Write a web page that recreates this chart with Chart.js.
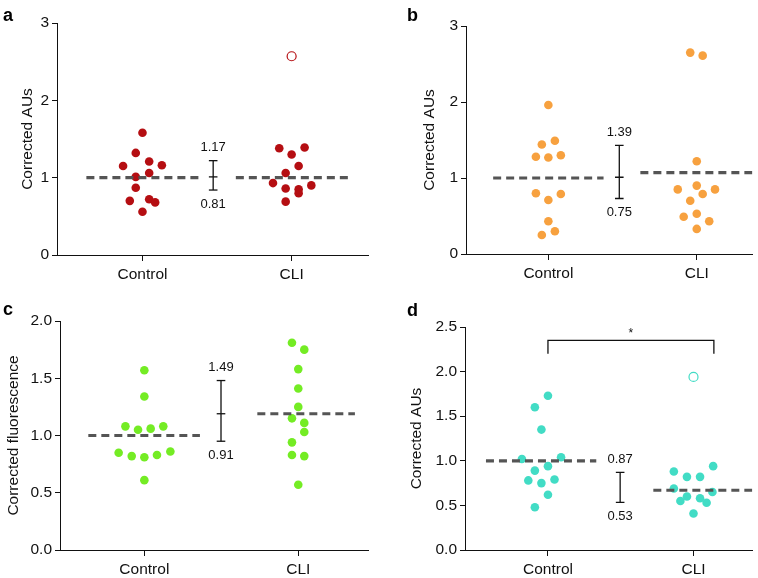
<!DOCTYPE html>
<html>
<head>
<meta charset="utf-8">
<script src="https://cdn.jsdelivr.net/npm/chart.js@4.4.1/dist/chart.umd.min.js"></script>
<style>
  body { margin: 0; background: #fff; }
  #wrap { position: relative; width: 758px; height: 578px; overflow: hidden; }
  canvas { position: absolute; }
  .tag { position: absolute; font: bold 18px 'Liberation Sans', Arial, sans-serif; line-height: 18px; color: #000; }
</style>
</head>
<body>
<div id="wrap">
  <canvas id="pa" width="379" height="290" style="left:0;top:0"></canvas>
  <canvas id="pb" width="379" height="290" style="left:379px;top:0"></canvas>
  <canvas id="pc" width="379" height="288" style="left:0;top:290px"></canvas>
  <canvas id="pd" width="379" height="288" style="left:379px;top:290px"></canvas>
  <div class="tag" style="left:3px;top:6px">a</div>
  <div class="tag" style="left:407px;top:6px">b</div>
  <div class="tag" style="left:3px;top:300px">c</div>
  <div class="tag" style="left:407px;top:301px">d</div>
</div>
<script>
const categories = ['Control', 'CLI'];

// panel a
const aControl = [1.58, 1.32, 1.15, 1.21, 1.16, 1.06, 1.01, 0.87, 0.70, 0.72, 0.68, 0.56];
const aControlJitter = [0, -0.045, -0.13, 0.045, 0.13, 0.045, -0.045, -0.045, -0.085, 0.045, 0.085, 0];
const aCli = [1.38, 1.30, 1.39, 1.15, 1.06, 0.93, 0.90, 0.86, 0.85, 0.80, 0.69];
const aCliJitter = [-0.083, 0, 0.087, 0.047, -0.04, -0.125, 0.132, -0.04, 0.047, 0.047, -0.04];
const aOutlier = [2.57];
const aMeans = [1.0, 1.0];
const aErr = [1.22, 1.01, 0.84];
const aErrLabels = ['1.17', '0.81'];
const aTicks = [0, 1, 2, 3];
const aTickLabels = ['0', '1', '2', '3'];

// panel b
const bControl = [1.96, 1.44, 1.49, 1.28, 1.27, 1.30, 0.80, 0.79, 0.71, 0.43, 0.30, 0.25];
const bControlJitter = [0, -0.044, 0.044, -0.084, 0, 0.084, -0.084, 0.084, 0, 0, 0.044, -0.044];
const bCli = [2.65, 2.61, 1.22, 0.90, 0.85, 0.85, 0.79, 0.70, 0.53, 0.49, 0.43, 0.33];
const bCliJitter = [-0.044, 0.04, 0, 0, -0.128, 0.123, 0.04, -0.044, 0, -0.088, 0.084, 0];
const bOutlier = [];
const bMeans = [1.0, 1.07];
const bErr = [1.43, 1.01, 0.73];
const bErrLabels = ['1.39', '0.75'];
const bTicks = [0, 1, 2, 3];
const bTickLabels = ['0', '1', '2', '3'];

// panel c
const cControl = [1.57, 1.34, 1.08, 1.05, 1.06, 1.08, 0.85, 0.82, 0.81, 0.83, 0.86, 0.61];
const cControlJitter = [0, 0, -0.123, -0.041, 0.041, 0.123, -0.167, -0.082, 0, 0.082, 0.169, 0];
const cCli = [1.81, 1.75, 1.58, 1.41, 1.25, 1.15, 1.11, 1.03, 0.94, 0.83, 0.82, 0.57];
const cCliJitter = [-0.041, 0.039, 0, 0, 0, -0.041, 0.039, 0.039, -0.041, -0.041, 0.039, 0];
const cOutlier = [];
const cMeans = [1.0, 1.19];
const cErr = [1.48, 1.19, 0.95];
const cErrLabels = ['1.49', '0.91'];
const cTicks = [0, 0.5, 1, 1.5, 2];
const cTickLabels = ['0.0', '0.5', '1.0', '1.5', '2.0'];

// panel d
const dControl = [1.73, 1.60, 1.35, 1.02, 1.04, 0.89, 0.94, 0.78, 0.75, 0.79, 0.62, 0.48];
const dControlJitter = [0, -0.09, -0.045, -0.179, 0.09, -0.09, 0, -0.135, -0.045, 0.045, 0, -0.09];
const dCli = [0.88, 0.82, 0.82, 0.94, 0.69, 0.65, 0.55, 0.60, 0.58, 0.53, 0.41];
const dCliJitter = [-0.135, -0.045, 0.045, 0.135, -0.135, 0.13, -0.09, -0.045, 0.045, 0.09, 0];
const dOutlier = [1.94];
const dMeans = [1.0, 0.67];
const dErr = [0.87, null, 0.535];
const dErrLabels = ['0.87', '0.53'];
const dTicks = [0, 0.5, 1, 1.5, 2, 2.5];
const dTickLabels = ['0.0', '0.5', '1.0', '1.5', '2.0', '2.5'];
const dBracket = [2.2, 2.35];

const FONT = "'Liberation Sans', Arial, sans-serif";
Chart.defaults.font.family = FONT;
Chart.defaults.color = '#111';

// draws the small numbers next to the error bars and the significance star
const notesPlugin = {
  id: 'notes',
  afterDatasetsDraw(chart, args, opts) {
    const ctx = chart.ctx;
    const xs = chart.scales.x, ys = chart.scales.y;
    ctx.save();
    ctx.fillStyle = '#111';
    ctx.textAlign = 'center';
    ctx.textBaseline = 'middle';
    ctx.font = '13px ' + FONT;
    const ex = xs.getPixelForValue(opts.errX);
    ctx.fillText(opts.labels[0], ex, ys.getPixelForValue(opts.err[0]) - 13);
    ctx.fillText(opts.labels[1], ex, ys.getPixelForValue(opts.err[2]) + 14);
    if (opts.star) {
      ctx.font = '12px ' + FONT;
      ctx.fillText('*', xs.getPixelForValue(opts.star.x), ys.getPixelForValue(opts.star.y) + 2);
    }
    ctx.restore();
  }
};

function pts(vals, jitter, center) {
  return vals.map((v, i) => ({ x: center + jitter[i], y: v }));
}

function drawPanel(id, p) {
  const lineStyle = { showLine: true, pointRadius: 0, borderColor: '#555', borderWidth: 3.2, borderDash: [8, 5], order: 0 };
  const errPts = [{ x: p.errX, y: p.err[0] }];
  if (p.err[1] !== null) errPts.push({ x: p.errX, y: p.err[1] });
  errPts.push({ x: p.errX, y: p.err[2] });

  const datasets = [
    Object.assign({ data: [{ x: p.meanX[0], y: p.means[0] }, { x: p.meanX[1], y: p.means[0] }] }, lineStyle),
    Object.assign({ data: [{ x: p.meanX[2], y: p.means[1] }, { x: p.meanX[3], y: p.means[1] }] }, lineStyle),
    {
      data: errPts, showLine: true, borderColor: '#111', borderWidth: 1.3,
      pointStyle: 'line', pointRadius: 4.3, pointBorderColor: '#111', pointBorderWidth: 1.3, order: 1
    },
    { data: pts(p.control, p.controlJitter, 0), backgroundColor: p.color, borderWidth: 0, pointRadius: 4.3, order: 2 },
    { data: pts(p.cli, p.cliJitter, 1), backgroundColor: p.color, borderWidth: 0, pointRadius: 4.3, order: 2 },
    {
      data: p.outlier.map(v => ({ x: 1, y: v })), backgroundColor: '#fff', borderColor: p.color,
      borderWidth: 1.2, pointRadius: 4.5, order: 2
    }
  ];
  if (p.bracket) {
    datasets.push({
      data: [{ x: 0, y: p.bracket[0] }, { x: 0, y: p.bracket[1] }, { x: 1.14, y: p.bracket[1] }, { x: 1.14, y: p.bracket[0] }],
      showLine: true, borderColor: '#111', borderWidth: 1.3, pointRadius: 0, order: 1
    });
  }

  new Chart(document.getElementById(id), {
    type: 'scatter',
    data: { datasets },
    plugins: [notesPlugin],
    options: {
      responsive: false,
      animation: false,
      events: [],
      layout: { padding: { left: 0, right: p.padRight, top: p.padTop, bottom: 0 } },
      plugins: {
        legend: { display: false },
        tooltip: { enabled: false },
        notes: { errX: p.errX, err: p.err, labels: p.errLabels, star: p.star }
      },
      scales: {
        x: {
          type: 'linear', min: p.xMin, max: p.xMax,
          afterBuildTicks: s => { s.ticks = categories.map((c, i) => ({ value: i })); },
          afterFit: s => { s.height = p.xAxisH; },
          ticks: { callback: v => categories[v], font: { size: 15.5 }, color: '#111', padding: 4, maxRotation: 0 },
          grid: { drawOnChartArea: false, tickLength: 6, color: '#111', lineWidth: 1 },
          border: { color: '#111', width: 1 }
        },
        y: {
          type: 'linear', min: p.yTicks[0], max: p.yTicks[p.yTicks.length - 1],
          afterBuildTicks: s => { s.ticks = p.yTicks.map(v => ({ value: v })); },
          afterFit: s => { s.width = p.yAxisW; },
          ticks: { callback: (v, i) => p.yTickLabels[i], font: { size: 15.5 }, color: '#111', padding: 3 },
          grid: { drawOnChartArea: false, tickLength: 5, color: '#111', lineWidth: 1 },
          border: { color: '#111', width: 1 },
          title: { display: true, text: p.yTitle, font: { size: 15.5 }, color: '#111', padding: { top: p.titlePad, bottom: 0 } }
        }
      }
    }
  });
}

drawPanel('pa', {
  color: '#b50e12', control: aControl, controlJitter: aControlJitter, cli: aCli, cliJitter: aCliJitter,
  outlier: aOutlier, means: aMeans, meanX: [-0.376, 0.38, 0.626, 1.38],
  err: aErr, errX: 0.474, errLabels: aErrLabels, yTicks: aTicks, yTickLabels: aTickLabels,
  yTitle: 'Corrected AUs', xMin: -0.573, xMax: 1.512,
  padTop: 23, padRight: 11, yAxisW: 57, xAxisH: 35, titlePad: 18
});
drawPanel('pb', {
  color: '#f7a13f', control: bControl, controlJitter: bControlJitter, cli: bCli, cliJitter: bCliJitter,
  outlier: bOutlier, means: bMeans, meanX: [-0.372, 0.372, 0.62, 1.375],
  err: bErr, errX: 0.478, errLabels: bErrLabels, yTicks: bTicks, yTickLabels: bTickLabels,
  yTitle: 'Corrected AUs', xMin: -0.555, xMax: 1.375,
  padTop: 26, padRight: 0, yAxisW: 87, xAxisH: 36, titlePad: 41
});
drawPanel('pc', {
  color: '#74ec24', control: cControl, controlJitter: cControlJitter, cli: cCli, cliJitter: cCliJitter,
  outlier: cOutlier, means: cMeans, meanX: [-0.364, 0.361, 0.734, 1.368],
  err: cErr, errX: 0.498, errLabels: cErrLabels, yTicks: cTicks, yTickLabels: cTickLabels,
  yTitle: 'Corrected fluorescence', xMin: -0.548, xMax: 1.453,
  padTop: 31, padRight: 11, yAxisW: 60, xAxisH: 28, titlePad: 4
});
drawPanel('pd', {
  color: '#42dcc5', control: dControl, controlJitter: dControlJitter, cli: dCli, cliJitter: dCliJitter,
  outlier: dOutlier, means: dMeans, meanX: [-0.426, 0.332, 0.724, 1.404],
  err: dErr, errX: 0.496, errLabels: dErrLabels, yTicks: dTicks, yTickLabels: dTickLabels,
  yTitle: 'Corrected AUs', xMin: -0.57, xMax: 1.404,
  padTop: 37, padRight: 0, yAxisW: 86, xAxisH: 28, titlePad: 28,
  bracket: dBracket, star: { x: 0.57, y: 2.45 }
});
</script>
</body>
</html>
